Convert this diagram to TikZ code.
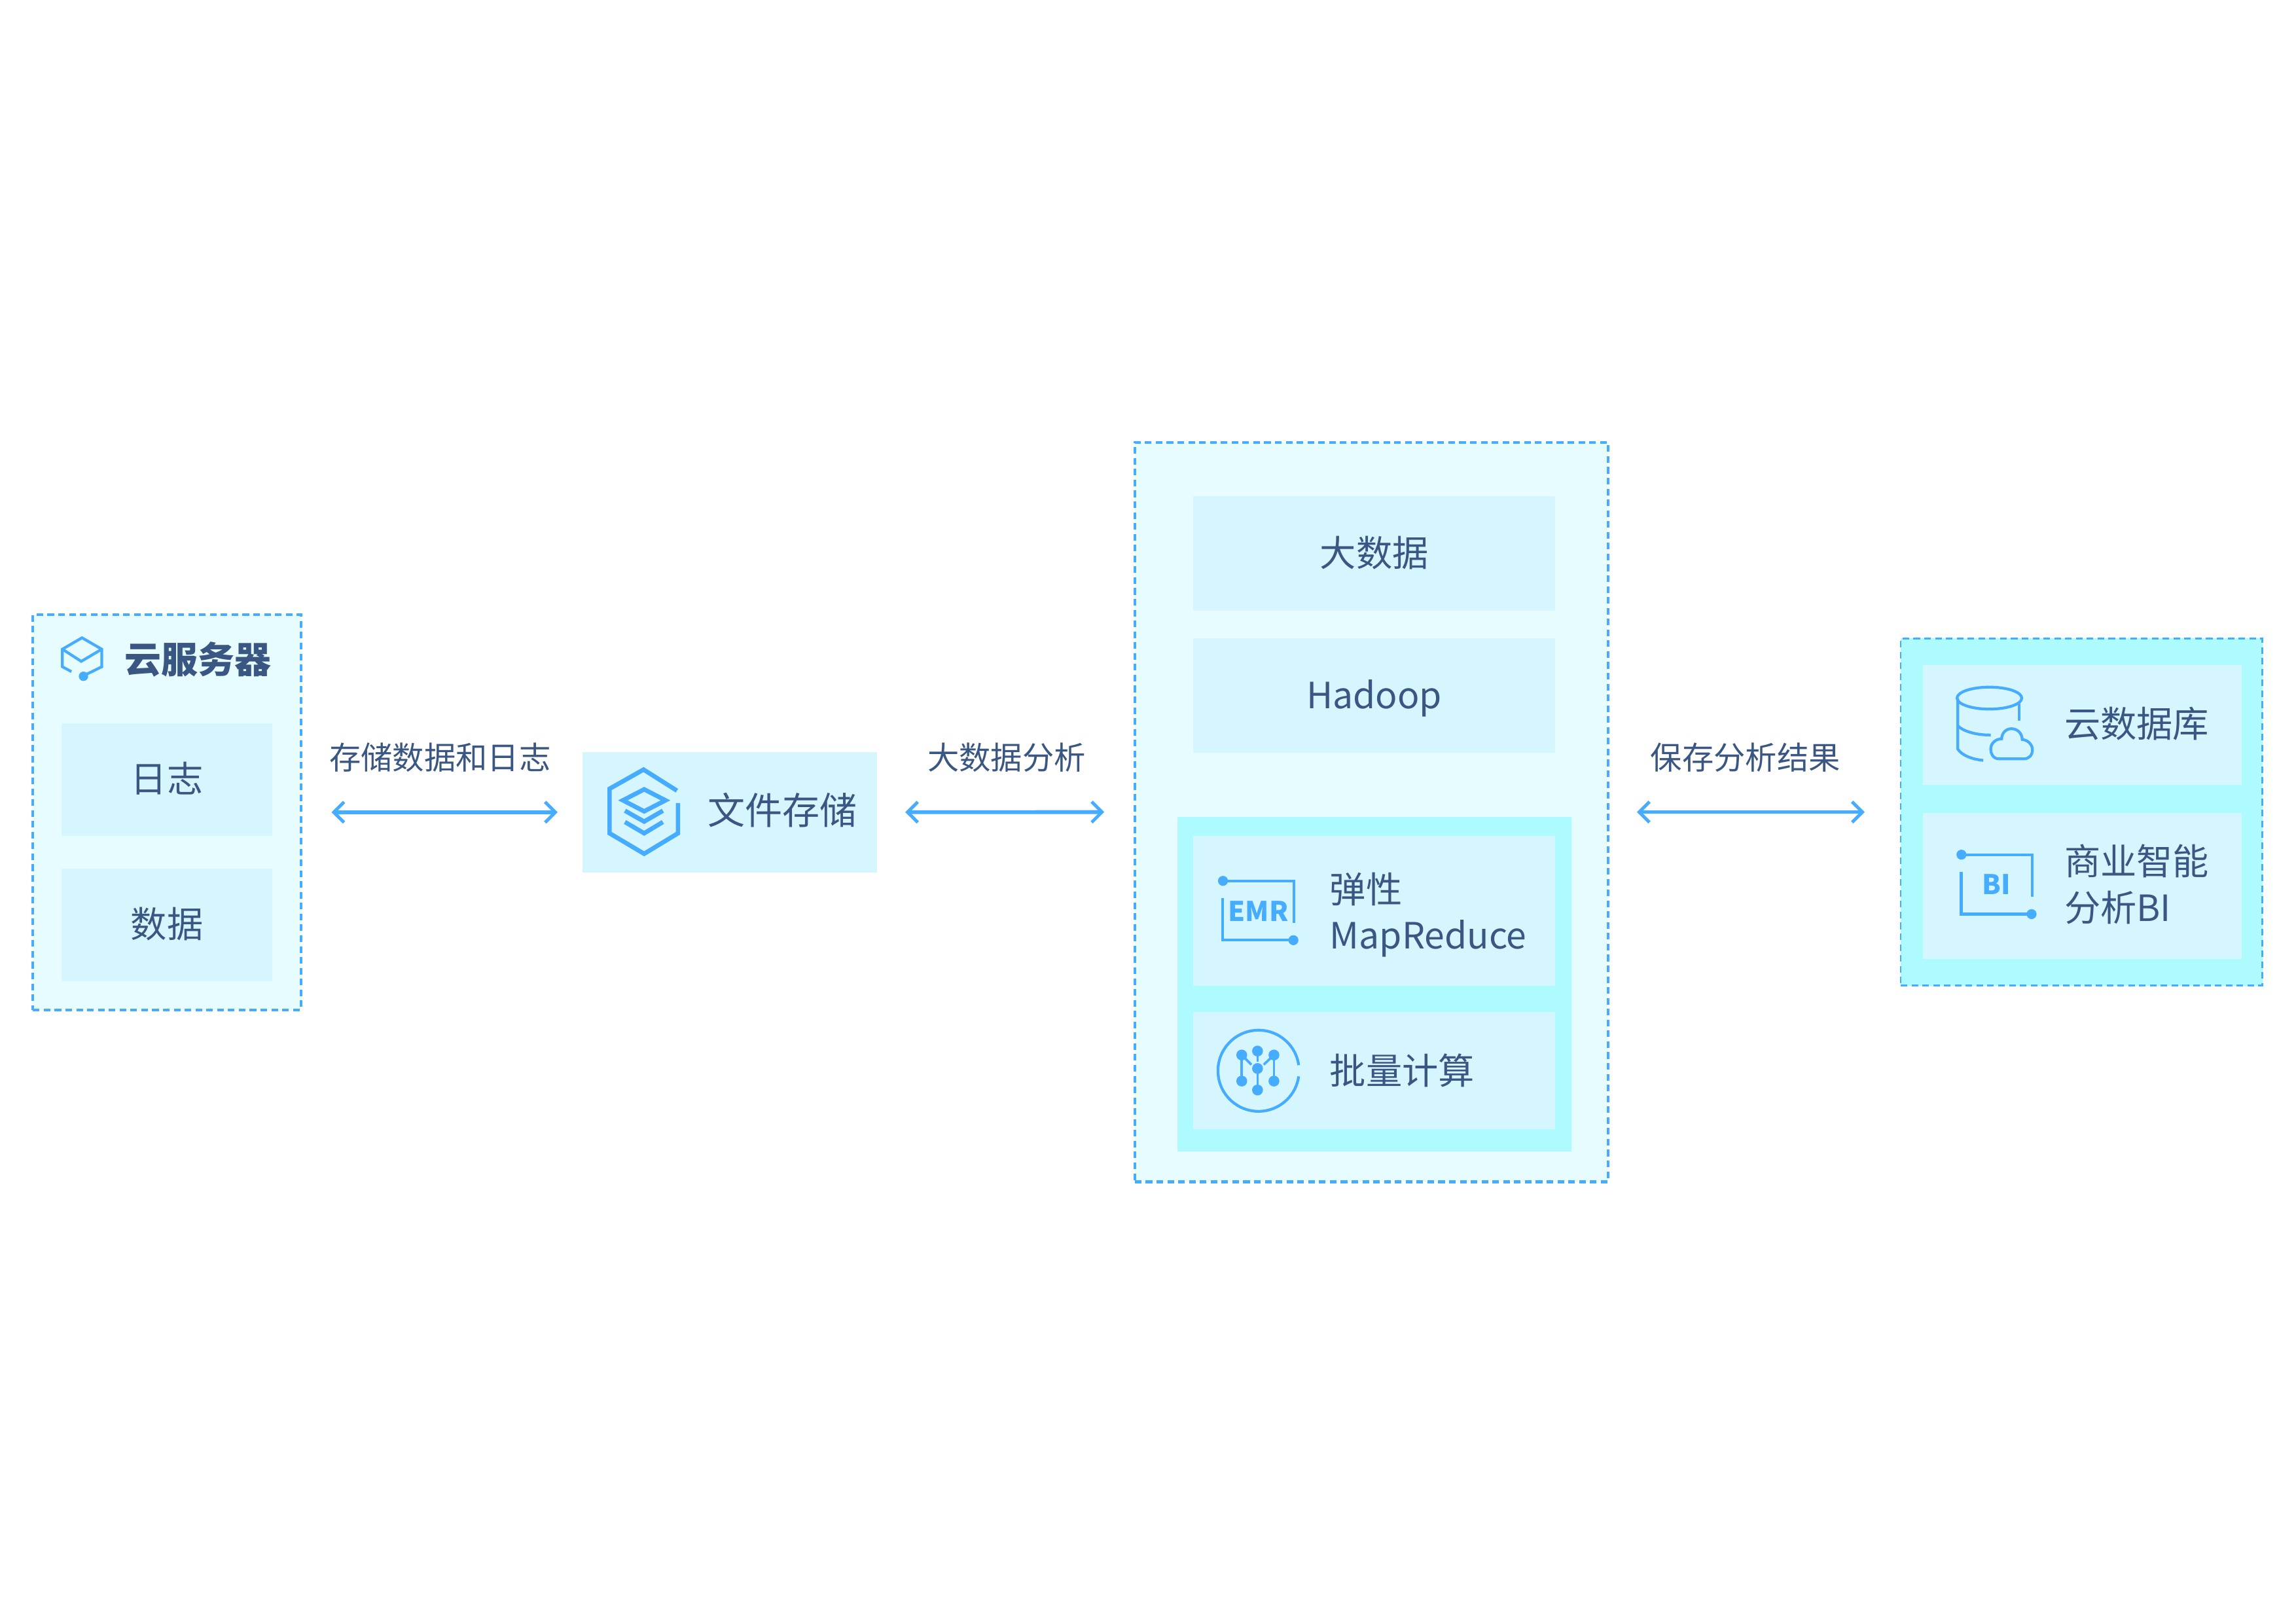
\documentclass[tikz,border=0pt]{standalone}
\usepackage{fontspec}
\setmainfont{Noto Sans CJK SC}
\usetikzlibrary{arrows.meta}
\definecolor{strokeblue}{HTML}{46ACFF}
\definecolor{inktext}{HTML}{3A5682}
\definecolor{palefill}{HTML}{E6FCFF}
\definecolor{boxfill}{HTML}{D5F5FF}
\definecolor{cyanfill}{HTML}{ADFAFF}
\tikzset{
  x=1pt,y=-1pt,
  outerbox/.style={draw=strokeblue,fill=palefill,line width=1.8pt,dash pattern=on 4.5pt off 2.9pt,inner sep=0pt,rectangle},
  outercyan/.style={outerbox,fill=cyanfill,line width=1.2pt},
  cyanband/.style={fill=cyanfill,inner sep=0pt,rectangle},
  panel/.style={fill=boxfill,inner sep=0pt,rectangle,text=inktext,font=\fontsize{24.7}{30}\selectfont,text height=20.3pt,text depth=3pt},
  plaintext/.style={inner sep=0pt,text=inktext,font=\fontsize{24.7}{31.5}\selectfont,anchor=base west,align=left},
  arrowlabel/.style={inner sep=0pt,text=inktext,font=\fontsize{21.6}{26}\selectfont,text height=18.8pt,text depth=2.6pt},
  conn/.style={draw=strokeblue,line width=2.6pt,{Straight Barb[length=7pt,width=14pt,line width=2.2pt]}-{Straight Barb[length=7pt,width=14pt,line width=2.2pt]}},
  icon/.style={draw=strokeblue,line width=1.9pt},
  iconthick/.style={draw=strokeblue,line width=3pt,miter limit=10},
  dotmark/.style={fill=strokeblue},
  iconlabel/.style={inner sep=0pt,text=strokeblue,font=\fontsize{18.5}{20}\selectfont\bfseries}
}
\begin{document}
\begin{tikzpicture}
\useasboundingbox (0,0) rectangle (1568,1108.6);
\fill[white] (0,0) rectangle (1568,1108.6);

% left group
\node[outerbox,minimum width=183pt,minimum height=270pt] (server) at (114,554.6) {};
\node[panel,minimum width=144pt,minimum height=77pt] (log) at (114,532.5) {日志};
\node[panel,minimum width=144pt,minimum height=77pt] (data) at (114,631.5) {数据};
\node[inner sep=0pt,text=inktext,font=\fontsize{25}{30}\selectfont\bfseries,anchor=west] (servertitle) at (85,450.5) {云服务器};
\draw[icon,line join=miter] (48.8,458.6) -- (42.6,455.3) -- (42.6,443.3) -- (56,435.5) -- (69.5,443.3) -- (69.5,455.3) -- (56.3,461.8);
\draw[icon] (42.6,443.3) -- (55.5,451.6) -- (69.5,443.3);
\fill[dotmark] (57,461.8) circle[radius=3.2pt];

% file storage
\node[panel,minimum width=201pt,minimum height=82pt] (file) at (498.5,554.6) {};
\node[inner sep=0pt,text=inktext,font=\fontsize{25.5}{30}\selectfont,anchor=west,text height=22.4pt,text depth=3.1pt] (filetext) at (483,553.5) {文件存储};
\draw[iconthick] (462.3,539.9) -- (439.5,525.5) -- (416.3,538.6) -- (416.3,569) -- (439.9,583) -- (463,569) -- (463,548.4);
\draw[iconthick] (439.9,539) -- (454.5,546.5) -- (439.9,554) -- (425.4,546.5) -- cycle;
\draw[iconthick] (426.8,553.6) -- (439.9,561) -- (452.7,553.6);
\draw[iconthick] (426.8,561.3) -- (439.9,569) -- (452.7,561.3);

% centre group
\node[outerbox,minimum width=323pt,minimum height=505pt] (bigbox) at (936.5,554.5) {};
\node[panel,minimum width=247pt,minimum height=78pt] (bigdata) at (938.5,378) {大数据};
\node[panel,minimum width=247pt,minimum height=78pt] (hadoop) at (938.5,475) {Hadoop};
\node[cyanband,minimum width=269pt,minimum height=228pt] (band) at (938.5,672) {};
\node[panel,minimum width=247pt,minimum height=102pt] (emrbox) at (938.5,622) {};
\node[panel,minimum width=247pt,minimum height=80pt] (batchbox) at (938.5,731) {};
\node[plaintext] (emrtext) at (908,647.9) {弹性\\MapReduce};
\node[inner sep=0pt,text=inktext,font=\fontsize{24.7}{30}\selectfont,anchor=base west] (batchtext) at (908,740.6) {批量计算};
% EMR icon
\draw[icon,line cap=butt] (835.2,601.5) -- (883.6,601.5) -- (883.6,630.4);
\draw[icon,line cap=butt] (834.8,613.2) -- (834.8,642) -- (883.3,642);
\fill[dotmark] (835.2,601.5) circle[radius=3.4pt];
\fill[dotmark] (883.3,642) circle[radius=3.4pt];
\node[iconlabel] (emrlabel) at (859.4,622) {EMR};
% batch icon
\draw[icon] (886.9,727.3) arc[start angle=-8,end angle=-352,radius=27.7];
\foreach \px/\py in {848/720.4,858.8/717.7,870/720.4,858.8/729.6,848/738.2,870/738.2,858.8/744.3}
  \fill[dotmark] (\px,\py) circle[radius=3.7pt];
\draw[icon,line width=1.6pt] (848,720.4) -- (848,735);
\draw[icon,line width=1.6pt] (870,720.4) -- (870,735);
\draw[icon,line width=1.6pt] (858.8,717.7) -- (858.8,725);
\draw[icon,line width=1.6pt] (858.8,729.6) -- (858.8,744.3);
\draw[icon,line width=1.6pt] (848,720.4) -- (854.6,727);
\draw[icon,line width=1.6pt] (870,720.4) -- (863,727);

% right group
\node[outercyan,minimum width=247pt,minimum height=237pt] (resultbox) at (1421.5,554.5) {};
\node[panel,minimum width=218pt,minimum height=82pt] (dbbox) at (1422,495) {};
\node[panel,minimum width=218pt,minimum height=100pt] (bibox) at (1422,605) {};
\node[inner sep=0pt,text=inktext,font=\fontsize{24.7}{30}\selectfont,anchor=base west] (dbtext) at (1409.6,503.4) {云数据库};
\node[plaintext] (bitext) at (1409.6,628.9) {商业智能\\分析BI};
% database icon
\draw[icon] (1358.6,476.7) ellipse[x radius=22.1,y radius=7.5];
\draw[icon] (1337,476.7) -- (1337,511.5) .. controls (1340,516) and (1347,518.5) .. (1354.4,519.2);
\draw[icon] (1337,495.5) .. controls (1340,499) and (1349,502) .. (1359.5,501.9);
\draw[icon] (1378.9,480.4) -- (1378.9,492);
\draw[icon] (1365.3,518.2) .. controls (1361,518.2) and (1359.5,514.5) .. (1359.5,511.5) .. controls (1359.5,507.5) and (1363,504.5) .. (1367,504.5) .. controls (1367,500.5) and (1370,497.6) .. (1373.6,497.6) .. controls (1378,497.6) and (1381,501) .. (1381,505) .. controls (1385,505.3) and (1388,508.5) .. (1388,512) .. controls (1388,515.8) and (1385.5,518.2) .. (1382,518.2) -- cycle;
% BI icon
\draw[icon,line cap=butt] (1339.5,583.6) -- (1387.8,583.6) -- (1387.8,612.5);
\draw[icon,line cap=butt] (1339.4,595.3) -- (1339.4,624.2) -- (1387.4,624.2);
\fill[dotmark] (1339.5,583.6) circle[radius=3.4pt];
\fill[dotmark] (1387.4,624.2) circle[radius=3.4pt];
\node[iconlabel] (bilabel) at (1363.3,603.7) {BI};

% connectors
\draw[conn,shorten <=20pt,shorten >=17pt] (server.east) -- (file.west);
\draw[conn,shorten <=19pt,shorten >=20pt] (file.east) -- (bigbox.west);
\draw[conn,shorten <=19pt,shorten >=24pt] (bigbox.east) -- (resultbox.west);
\node[arrowlabel] (label1) at (300.5,517.5) {存储数据和日志};
\node[arrowlabel] (label2) at (687.5,517.5) {大数据分析};
\node[arrowlabel] (label3) at (1192,517.5) {保存分析结果};
\end{tikzpicture}
\end{document}
